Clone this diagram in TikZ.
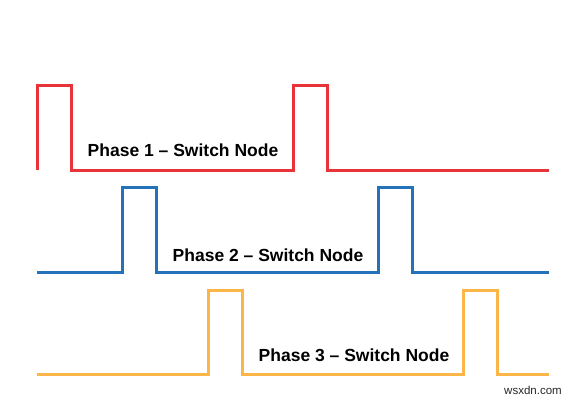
\documentclass[tikz,border=0pt]{standalone}
\usepackage{fontspec}
\setmainfont{Liberation Sans}
\definecolor{phred}{RGB}{232,52,56}
\definecolor{phblue}{RGB}{36,114,186}
\definecolor{phorange}{RGB}{250,182,72}
\begin{document}
\begin{tikzpicture}[x=1pt,y=-1pt,
  wave/.style={line width=3pt,line join=miter},
  lbl/.style={font=\fontsize{17.5}{20}\selectfont\bfseries,anchor=base,inner sep=0pt},
  wm/.style={font=\fontsize{11.5}{13}\selectfont,anchor=base,inner sep=0pt,text=black!85}]
\useasboundingbox (0,0) rectangle (576,400);
% Phase 1
\coordinate (r0) at (37,170);
\coordinate (r1) at (549,170);
\draw[wave,phred] (r0) -- (37,85) -- (71,85) -- (71,170) -- (293,170) -- (293,85) -- (327,85) -- (327,170) -- (r1);
\node[lbl] (t1) at (183,156.5) {Phase 1 – Switch Node};
% Phase 2
\coordinate (b0) at (37,272);
\coordinate (b1) at (549,272);
\draw[wave,phblue] (b0) -- (122,272) -- (122,187) -- (156,187) -- (156,272) -- (378,272) -- (378,187) -- (412,187) -- (412,272) -- (b1);
\node[lbl] (t2) at (268,261.5) {Phase 2 – Switch Node};
% Phase 3
\coordinate (o0) at (37,374);
\coordinate (o1) at (549,374);
\draw[wave,phorange] (o0) -- (208,374) -- (208,290) -- (242,290) -- (242,374) -- (463,374) -- (463,290) -- (497,290) -- (497,374) -- (o1);
\node[lbl] (t3) at (354,361.5) {Phase 3 – Switch Node};
% watermark
\node[wm] (w) at (533,394) {wsxdn.com};
\end{tikzpicture}
\end{document}
